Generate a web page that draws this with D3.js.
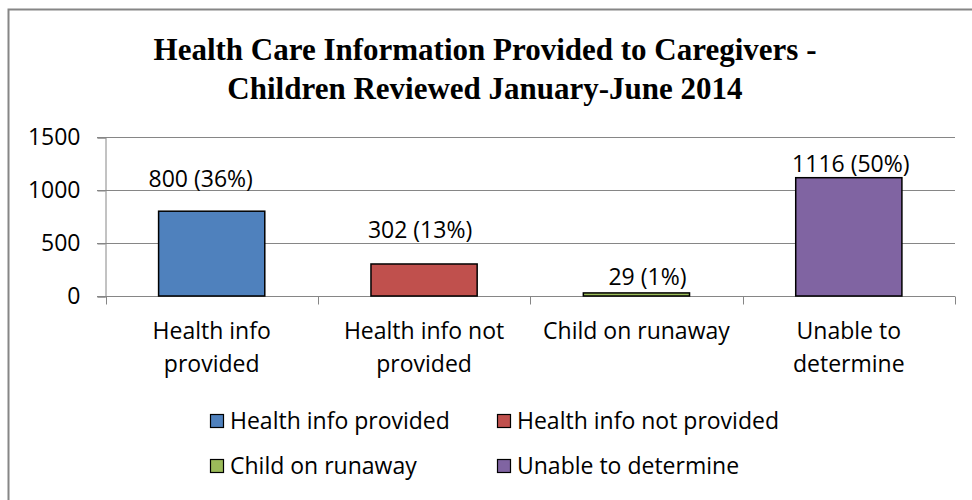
<!DOCTYPE html>
<html>
<head>
<meta charset="utf-8">
<script src="https://cdn.jsdelivr.net/npm/d3@7"></script>
<style>
  html, body { margin: 0; padding: 0; background: #fff; }
  svg { display: block; }
</style>
</head>
<body>
<svg id="chart" width="972" height="500"></svg>
<script>
// ---- data ----
const categories = ["Health info provided", "Health info not provided", "Child on runaway", "Unable to determine"];
const categoryLines = [["Health info", "provided"], ["Health info not", "provided"], ["Child on runaway"], ["Unable to", "determine"]];
const values = [800, 302, 29, 1116];
const valueLabels = ["800 (36%)", "302 (13%)", "29 (1%)", "1116 (50%)"];
const yTicks = [0, 500, 1000, 1500];
const colors = ["#4F81BD", "#C0504D", "#9BBB59", "#8064A2"];
const titleLines = ["Health Care Information Provided to Caregivers -", "Children Reviewed January-June 2014"];

// ---- drawing ----
const svg = d3.select("#chart");
const sansFont = "'Open Sans', Carlito, Calibri, sans-serif";
const fs = 23;
const gridColor = "#868686";

svg.append("rect").attr("x", 0).attr("y", 0).attr("width", 972).attr("height", 500).attr("fill", "#fff");
svg.append("rect").attr("x", 8.5).attr("y", 9.5).attr("width", 1000).attr("height", 1000)
  .attr("fill", "none").attr("stroke", gridColor).attr("stroke-width", 2);

// title
svg.append("g").selectAll("text").data(titleLines).join("text")
  .attr("x", 485).attr("y", (d, i) => 60 + i * 39)
  .attr("text-anchor", "middle")
  .attr("font-family", "'Liberation Serif', 'Times New Roman', serif")
  .attr("font-weight", "bold").attr("font-size", 31).attr("fill", "#000")
  .text(d => d);

const x = d3.scaleBand().domain(categories).range([105.5, 955]).paddingInner(0.5).paddingOuter(0.25);
const xOuter = d3.scaleBand().domain(categories).range([105.5, 955]).padding(0);
const y = d3.scaleLinear().domain([0, 1500]).range([296, 137]);

// gridlines
svg.append("g").selectAll("line").data(yTicks).join("line")
  .attr("x1", 97).attr("x2", 955)
  .attr("y1", d => Math.round(y(d)) + 0.5).attr("y2", d => Math.round(y(d)) + 0.5)
  .attr("stroke", gridColor).attr("stroke-width", 1);

// y axis
const yAxis = d3.axisLeft(y).tickValues(yTicks).tickFormat(d3.format("d")).tickSize(8).tickPadding(17);
const gy = svg.append("g").attr("transform", "translate(105.5,0.5)").call(yAxis);
gy.select(".domain").attr("stroke", gridColor);
gy.selectAll(".tick line").attr("stroke", gridColor);
gy.selectAll(".tick text").attr("font-family", sansFont).attr("font-size", fs).attr("fill", "#000");

// x axis
const gx = svg.append("g").attr("transform", `translate(0,${Math.round(y(0)) + 0.5})`);
gx.append("line").attr("x1", 105.5).attr("x2", 955).attr("stroke", gridColor);
const boundaries = categories.map(c => xOuter(c)).concat([xOuter(categories[3]) + xOuter.bandwidth()]);
gx.selectAll("line.tk").data(boundaries).join("line").attr("class", "tk")
  .attr("x1", d => Math.round(d) + 0.5).attr("x2", d => Math.round(d) + 0.5)
  .attr("y1", 0).attr("y2", 8).attr("stroke", gridColor);

// category labels
const catG = svg.append("g");
categories.forEach((c, i) => {
  catG.append("text")
    .attr("text-anchor", "middle")
    .attr("font-family", sansFont).attr("font-size", fs).attr("fill", "#000")
    .selectAll("tspan").data(categoryLines[i]).join("tspan")
    .attr("x", x(c) + x.bandwidth() / 2)
    .attr("y", (d, j) => 339 + j * 33)
    .text(d => d);
});

// bars
svg.append("g").selectAll("rect").data(values).join("rect")
  .attr("x", (d, i) => x(categories[i]))
  .attr("y", d => y(d))
  .attr("width", x.bandwidth())
  .attr("height", d => y(0) - y(d))
  .attr("fill", (d, i) => colors[i])
  .attr("stroke", "#000").attr("stroke-width", 1.5);

// value labels (manually placed in the original)
const labelLift = [24, 26, 8, 6];
const labelNudge = [-11, -4, 11, 2];
svg.append("g").selectAll("text").data(values).join("text")
  .attr("x", (d, i) => x(categories[i]) + x.bandwidth() / 2 + labelNudge[i])
  .attr("y", (d, i) => y(d) - labelLift[i])
  .attr("text-anchor", "middle")
  .attr("font-family", sansFont).attr("font-size", fs).attr("fill", "#000")
  .text((d, i) => valueLabels[i]);

// legend
const legendPos = [[210, 421], [497, 421], [210, 466], [497, 466]];
const lg = svg.append("g").selectAll("g").data(categories).join("g")
  .attr("transform", (d, i) => `translate(${legendPos[i][0]},${legendPos[i][1]})`);
lg.append("rect").attr("x", 0.5).attr("y", -6.5).attr("width", 13).attr("height", 13)
  .attr("fill", (d, i) => colors[i]).attr("stroke", "#000").attr("stroke-width", 1.2);
lg.append("text").attr("x", 20).attr("y", 8)
  .attr("font-family", sansFont).attr("font-size", fs).attr("fill", "#000")
  .text(d => d);
</script>
</body>
</html>
